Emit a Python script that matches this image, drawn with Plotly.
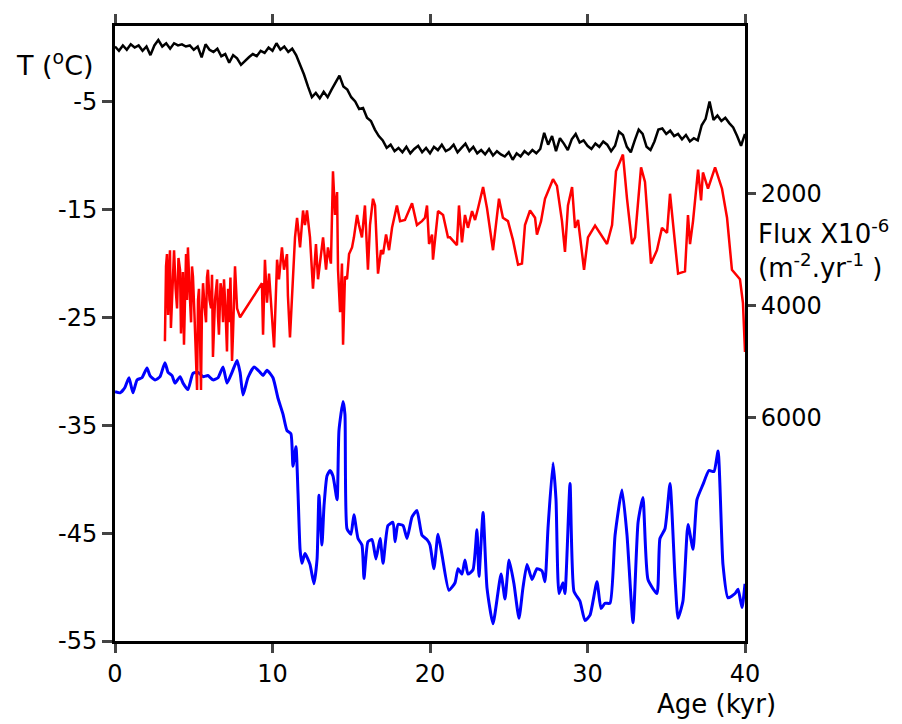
import plotly.graph_objects as go

# ---- Black curve (upper temperature record, left axis) ----
black_age = [0.0, 0.25, 0.5, 0.75, 1.0, 1.25, 1.5, 1.75, 2.0, 2.25, 2.5, 2.75, 3.0, 3.25, 3.5, 3.75,
             4.0, 4.25, 4.5, 4.75, 5.0, 5.25, 5.5, 5.75, 6.0, 6.25, 6.5, 6.75, 7.0, 7.25, 7.5, 7.75,
             8.0, 8.25, 8.5, 8.75, 9.0, 9.25, 9.5, 9.75, 10.0, 10.25, 10.5, 10.75, 11.0, 11.25, 11.5, 11.75,
             12.0, 12.25, 12.5, 12.75, 13.0, 13.25, 13.5, 13.75, 14.0, 14.25, 14.5, 14.75, 15.0, 15.25, 15.5, 15.75,
             16.0, 16.25, 16.5, 16.75, 17.0, 17.25, 17.5, 17.75, 18.0, 18.25, 18.5, 18.75, 19.0, 19.25, 19.5, 19.75,
             20.0, 20.25, 20.5, 20.75, 21.0, 21.25, 21.5, 21.75, 22.0, 22.25, 22.5, 22.75, 23.0, 23.25, 23.5, 23.75,
             24.0, 24.25, 24.5, 24.75, 25.0, 25.25, 25.5, 25.75, 26.0, 26.25, 26.5, 26.75, 27.0, 27.25, 27.5, 27.75,
             28.0, 28.25, 28.5, 28.75, 29.0, 29.25, 29.5, 29.75, 30.0, 30.25, 30.5, 30.75, 31.0, 31.25, 31.5, 31.75,
             32.0, 32.25, 32.5, 32.75, 33.0, 33.25, 33.5, 33.75, 34.0, 34.25, 34.5, 34.75, 35.0, 35.25, 35.5, 35.75,
             36.0, 36.25, 36.5, 36.75, 37.0, 37.25, 37.5, 37.75, 38.0, 38.25, 38.5, 38.75, 39.0, 39.25, 39.5, 39.75,
             40.0]
black_t = [0.1, -0.3, 0.2, -0.2, 0.3, 0.0, 0.2, -0.3, 0.1, -0.7, 0.2, 0.7, 0.1, 0.4, -0.1, 0.4,
           0.2, 0.3, 0.1, 0.2, -0.2, 0.1, -0.9, 0.3, -0.2, -0.4, -0.1, -0.8, -0.6, -1.4, -0.7, -1.0,
           -1.6, -1.2, -0.9, -0.6, -0.8, -0.3, -0.5, 0.0, -0.3, 0.4, -0.2, 0.1, -0.4, -0.1, -0.7, -1.6,
           -2.5, -3.6, -4.6, -4.2, -4.7, -4.1, -4.6, -3.9, -3.3, -2.6, -3.6, -3.9, -4.6, -5.0, -5.7, -5.6,
           -6.5, -6.8, -7.6, -8.2, -8.6, -9.3, -9.0, -9.6, -9.3, -9.7, -9.2, -9.8, -9.4, -9.1, -9.7, -9.3,
           -9.8, -9.2, -9.5, -9.0, -9.6, -9.4, -9.0, -9.7, -9.3, -8.9, -9.6, -9.2, -9.8, -9.5, -9.9, -9.4,
           -10.0, -9.6, -9.9, -10.1, -9.7, -10.4, -9.8, -10.1, -9.6, -9.9, -9.5, -9.8, -9.4, -7.9, -9.0, -8.2,
           -9.6, -8.4, -8.9, -9.5, -8.5, -8.0, -8.8, -8.6, -9.1, -9.4, -8.9, -9.2, -8.7, -9.0, -9.6, -9.1,
           -7.8, -8.1, -9.2, -9.7, -8.6, -7.6, -8.0, -9.2, -9.5, -8.7, -7.6, -7.5, -8.0, -7.7, -8.2, -8.0,
           -8.5, -8.1, -8.7, -8.4, -8.6, -7.2, -6.6, -5.0, -6.7, -6.3, -6.8, -6.5, -7.0, -7.4, -8.2, -9.1,
           -8.0]

# ---- Red curve (flux, right axis, reversed) ----
red_age = [3.17, 3.24, 3.30, 3.37, 3.43, 3.49, 3.55, 3.62, 3.68, 3.75, 3.85, 3.94, 4.03, 4.13, 4.19, 4.25,
           4.31, 4.38, 4.45, 4.51, 4.57, 4.63, 4.73, 4.83, 4.89, 4.95, 5.05, 5.14, 5.21, 5.27,
           5.33, 5.40, 5.46, 5.52, 5.59, 5.68, 5.78, 5.84, 5.90, 6.00, 6.10, 6.16, 6.22, 6.35, 6.48, 6.54,
           6.60, 6.70, 6.79, 6.86, 6.92, 7.02, 7.11, 7.18, 7.24, 7.33, 7.43, 7.49, 7.55, 7.62,
           7.75, 7.94, 9.33, 9.40, 9.52, 9.65, 9.78, 9.97, 10.10, 10.29, 10.41, 10.60, 10.73, 10.92, 10.98, 11.11,
           11.30, 11.43, 11.56, 11.75, 11.94, 12.06, 12.19, 12.38, 12.57, 12.76, 12.89, 13.08, 13.21, 13.40, 13.52, 13.71,
           13.84, 13.97, 14.10, 14.16, 14.29, 14.41, 14.48, 14.60, 14.73, 14.86, 15.05, 15.17, 15.37, 15.49, 15.68, 15.87,
           16.06, 16.19, 16.38, 16.51, 16.70, 16.89, 17.02, 17.21, 17.40, 17.59, 17.90, 18.10, 18.41, 18.86, 19.17, 19.49,
           19.68, 19.81, 19.94, 20.13, 20.19, 20.38, 20.51, 20.83, 21.14, 21.27, 21.71, 21.84, 22.03, 22.22, 22.41, 22.67,
           22.86, 23.05, 23.37, 23.62, 24.00, 24.38, 24.63, 24.95, 25.27, 25.59, 25.84, 26.03, 26.35, 26.67, 26.79, 27.05,
           27.30, 27.81, 28.06, 28.38, 28.57, 28.76, 29.02, 29.21, 29.40, 29.78, 30.03, 30.48, 30.98, 31.24, 31.56, 31.81,
           32.25, 32.51, 32.83, 33.02, 33.40, 33.65, 34.03, 34.41, 34.73, 35.05, 35.24, 35.43, 35.75, 36.19, 36.38, 36.51,
           36.70, 37.02, 37.21, 37.33, 37.65, 38.10, 38.54, 38.86, 39.17, 39.68, 39.87, 40.00]
red_flux = [4640, 3300, 3080, 4170, 3500, 3010, 4400, 3830, 3200, 3010, 3700, 4050, 3150, 3360, 4500, 3950,
            3400, 4700, 3600, 3080, 3900, 2960, 3700, 4300, 3300, 3480, 4200, 4990, 5510, 3900,
            3700, 4600, 5510, 4100, 3600, 4000, 4300, 3500, 3360, 3900, 4050, 3450, 4920, 3900, 3530, 4200,
            4520, 3600, 3770, 4300, 3530, 4100, 4820, 3700, 4300, 3500, 4990, 4520, 3800, 3300,
            4050, 4210, 3600, 4520, 3180, 3950, 3430, 4300, 4750, 3180, 3530, 2960, 3360, 3080, 3830, 4570,
            3480, 2780, 2430, 2960, 2300, 2560, 2300, 2780, 3700, 2900, 3530, 3080, 2780, 3360, 2960, 3250,
            1600, 2380, 1970, 3360, 4120, 3250, 4700, 3480, 3530, 3080, 2960, 2780, 2380, 2560, 2780, 2210,
            3360, 2560, 2090, 2210, 3430, 3010, 3080, 2730, 3010, 2610, 2210, 2490, 2470, 2170, 2560, 2490,
            2430, 2210, 2900, 2730, 3180, 2660, 2310, 2380, 2780, 2780, 2920, 2210, 2870, 2380, 2610, 2310,
            2470, 2260, 1880, 2260, 3010, 2090, 2430, 2490, 2830, 3270, 3250, 2560, 2300, 2430, 2730, 2490,
            2090, 1740, 1860, 2490, 3040, 2210, 1880, 2610, 2470, 3360, 2780, 2570, 2780, 2900, 2560, 1600,
            1300, 2090, 2900, 2780, 1530, 1790, 3250, 3010, 2610, 2700, 2000, 2490, 3430, 3390, 2380, 2900,
            2490, 1570, 2120, 1620, 1910, 1530, 1910, 2430, 3360, 3530, 3950, 4830]

# ---- Blue curve (lower temperature record, left axis) ----
blue_age = [0.00, 0.32, 0.63, 0.89, 1.14, 1.40, 1.71, 2.03, 2.22, 2.54, 2.86, 3.17, 3.37, 3.62, 3.81, 4.13,
            4.32, 4.63, 4.95, 5.27, 5.59, 5.90, 6.22, 6.54, 6.86, 7.11, 7.43, 7.75, 7.94, 8.13, 8.44, 8.83,
            9.21, 9.40, 9.65, 10.03, 10.35, 10.67, 10.92, 11.17, 11.30, 11.49, 11.62, 11.75, 11.87, 12.06, 12.38, 12.63,
            12.83, 12.95, 13.14, 13.27, 13.46, 13.65, 13.84, 14.10, 14.22, 14.48, 14.60, 14.73, 14.98, 15.17, 15.43, 15.68,
            15.81, 16.06, 16.32, 16.57, 16.83, 17.02, 17.33, 17.65, 17.78, 17.97, 18.29, 18.54, 18.86, 19.17, 19.49, 19.81,
            20.00, 20.25, 20.51, 20.76, 21.20, 21.59, 21.78, 22.03, 22.22, 22.41, 22.73, 22.98, 23.11, 23.37, 23.62, 24.00,
            24.51, 24.76, 25.02, 25.33, 25.65, 25.90, 26.16, 26.48, 26.79, 27.11, 27.30, 27.49, 27.81, 28.00, 28.19, 28.44,
            28.57, 28.89, 29.14, 29.52, 29.84, 30.16, 30.60, 30.86, 31.11, 31.43, 31.75, 32.19, 32.51, 32.89, 33.21, 33.52,
            33.84, 34.41, 34.60, 34.92, 35.24, 35.56, 35.75, 36.06, 36.38, 36.70, 36.95, 37.33, 37.71, 38.03, 38.29, 38.60,
            38.92, 39.37, 39.56, 39.81, 40.00]
blue_t = [-31.9, -32.0, -31.5, -30.6, -32.0, -30.8, -30.6, -29.7, -30.4, -30.8, -30.5, -29.2, -30.1, -30.4, -31.1, -30.5,
          -31.1, -31.7, -30.2, -30.1, -30.5, -30.4, -30.8, -30.6, -29.6, -31.1, -30.1, -29.0, -30.1, -32.2, -30.6, -29.6,
          -30.1, -30.4, -29.9, -30.6, -32.5, -34.0, -35.5, -35.8, -38.8, -37.0, -41.3, -46.5, -47.8, -46.9, -47.9, -49.7,
          -47.4, -41.5, -46.1, -42.5, -39.7, -39.2, -39.7, -41.9, -35.5, -32.8, -34.0, -44.6, -45.1, -43.3, -45.5, -46.1,
          -49.2, -45.8, -45.6, -47.4, -45.5, -47.8, -44.3, -44.0, -45.8, -44.2, -44.3, -45.5, -43.5, -42.9, -45.2, -45.6,
          -46.1, -48.3, -45.1, -47.0, -50.3, -49.6, -48.3, -48.8, -47.5, -48.8, -48.4, -44.7, -49.0, -43.1, -50.1, -53.4,
          -48.8, -51.1, -47.5, -49.7, -52.9, -50.1, -47.9, -49.3, -48.3, -48.5, -49.5, -44.6, -38.5, -41.9, -50.6, -49.6,
          -50.6, -40.4, -50.4, -51.3, -53.1, -52.6, -49.5, -52.0, -51.5, -51.5, -45.2, -41.0, -45.2, -53.3, -44.0, -41.7,
          -49.3, -50.6, -45.5, -44.6, -40.4, -49.2, -52.9, -51.3, -44.2, -46.5, -41.9, -40.5, -39.2, -39.3, -37.4, -47.9,
          -51.0, -50.6, -50.2, -51.9, -49.7]

x_ticks = [0, 10, 20, 30, 40]
t_ticks = [-5, -15, -25, -35, -45, -55]
t_tick_text = ["-5", "-15", "-25", "-35", "-45", "-55"]
flux_ticks = [2000, 4000, 6000]

FONT = "DejaVu Sans, Liberation Sans, Arial, sans-serif"

fig = go.Figure()
fig.add_trace(go.Scatter(x=black_age, y=black_t, mode="lines",
                         line=dict(color="black", width=2.5), yaxis="y", showlegend=False))
fig.add_trace(go.Scatter(x=red_age, y=red_flux, mode="lines",
                         line=dict(color="rgb(255,0,0)", width=2.5), yaxis="y2", showlegend=False))
fig.add_trace(go.Scatter(x=blue_age, y=blue_t, mode="lines",
                         line=dict(color="rgb(0,0,255)", width=3, shape="spline", smoothing=0.5),
                         yaxis="y", showlegend=False))

# the page body adds an 8 px offset, so the figure is laid out 8 px up/left
fig.update_layout(
    width=894, height=716,
    margin=dict(l=107, r=157, t=6, b=83),
    paper_bgcolor="white", plot_bgcolor="white",
    font=dict(family=FONT, size=24, color="black"),
    xaxis=dict(range=[0, 40], tickvals=x_ticks, ticks="outside", ticklen=9, tickwidth=3,
               showline=True, linewidth=3, linecolor="black", mirror="ticks",
               showgrid=False, zeroline=False, tickfont=dict(size=24)),
    yaxis=dict(range=[-55, 2], tickvals=t_ticks, ticktext=t_tick_text, ticks="outside",
               ticklen=10, tickwidth=3, showline=True, linewidth=3, linecolor="black",
               showgrid=False, zeroline=False, tickfont=dict(size=24)),
    yaxis2=dict(range=[10000, -1000], overlaying="y", side="right", tickvals=flux_ticks,
                ticks="outside", ticklen=8, tickwidth=3, showline=True, linewidth=3,
                linecolor="black", showgrid=False, zeroline=False, tickfont=dict(size=24)),
    annotations=[
        dict(text="T (<sup>o</sup>C)", xref="paper", yref="paper", x=-0.095, y=0.939,
             xanchor="center", yanchor="middle", showarrow=False, font=dict(size=27)),
        dict(text="Flux X10<sup>-6</sup><br>(m<sup>-2</sup>.yr<sup>-1</sup> )", xref="paper", yref="paper",
             x=1.017, y=0.638, xanchor="left", yanchor="middle", align="left",
             showarrow=False, font=dict(size=26)),
        dict(text="Age (kyr)", xref="paper", yref="paper", x=0.954, y=-0.102,
             xanchor="center", yanchor="middle", showarrow=False, font=dict(size=26)),
    ],
)

fig.write_html("out.html")
